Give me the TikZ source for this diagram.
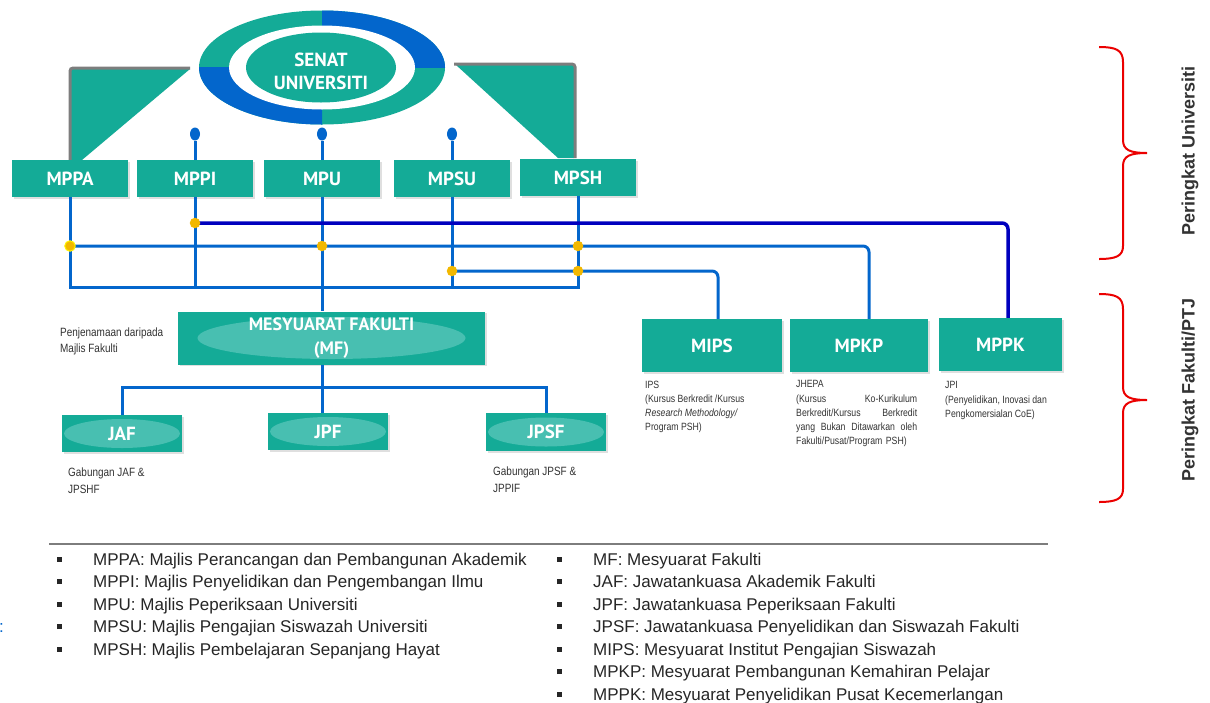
\documentclass[tikz,border=0pt]{standalone}
\usepackage{fontspec}
\setmainfont{Liberation Sans}
\newfontfamily\boxfont{PT Sans}
\newfontfamily\notefont[FakeStretch=0.83]{Liberation Sans}
\usetikzlibrary{shapes.geometric,shadows}
\definecolor{senatteal}{RGB}{20,171,151}
\definecolor{lightteal}{RGB}{72,191,177}
\definecolor{linkblue}{RGB}{3,102,204}
\definecolor{deepblue}{RGB}{0,0,190}
\definecolor{dotyellow}{RGB}{242,184,0}
\definecolor{framegray}{RGB}{125,125,125}
\definecolor{bracered}{RGB}{235,0,0}
\newcommand\legbullet{\makebox[36pt][l]{\rule[3.5pt]{5pt}{5pt}}}

\begin{document}
\begin{tikzpicture}[x=1pt,y=-1pt,
	council/.style={fill=senatteal, text=white, inner sep=0pt,
		font=\boxfont\bfseries\fontsize{19}{22}\selectfont,
		drop shadow={opacity=0.25,shadow xshift=1.5pt,shadow yshift=-1.5pt}},
	topbox/.style={council, minimum width=116pt, minimum height=37pt},
	unitbox/.style={council, minimum width=#1, minimum height=53pt},
	glow/.style 2 args={path picture={\fill[lightteal] (path picture bounding box.center) ellipse (#1 and #2);}},
	link/.style={linkblue, line width=3pt},
	deeplink/.style={deepblue, line width=3.5pt},
	joint/.style={circle, fill=dotyellow, inner sep=0pt, minimum size=10.5pt},
	knob/.style={ellipse, fill=linkblue, inner sep=0pt, minimum width=10pt, minimum height=13pt},
	note/.style={font=\notefont\fontsize{10.5}{14.2}\selectfont, text=black!80, align=left, inner sep=0pt, anchor=north west},
	legend/.style={font=\fontsize{17}{20}\selectfont, text=black!85, inner sep=0pt, anchor=base west},
	brace/.style={bracered, line width=2pt},
	level/.style={font=\bfseries\fontsize{18}{20}\selectfont, rotate=90, text=black!80}]
	\useasboundingbox (0,0) rectangle (1210,702);
	\fill[white] (0,0) rectangle (1210,702);

	% senate ring and side wings
	\fill[senatteal] (70,69) -- (190,69) -- (82,160) -- (70,160) -- cycle;
	\draw[framegray, line width=3pt, rounded corners=3pt] (70,160) -- (70,68) -- (190,68);
	\fill[senatteal] (456,65) -- (574,65) -- (574,158) -- (558,158) -- cycle;
	\draw[framegray, line width=3pt, rounded corners=3pt] (454,64) -- (575,64) -- (575,158);
	\fill[senatteal] (322,67.5) ellipse (123pt and 57pt);
	\begin{scope}
		\clip (322,67.5) rectangle (450,5);
		\fill[linkblue] (322,67.5) ellipse (123pt and 57pt);
	\end{scope}
	\begin{scope}
		\clip (322,67.5) rectangle (195,130);
		\fill[linkblue] (322,67.5) ellipse (123pt and 57pt);
	\end{scope}
	\fill[white] (322,67.5) ellipse (93pt and 42pt);
	\node[ellipse, fill=senatteal, inner sep=0pt, minimum width=150pt, minimum height=70pt] (senat) at (321,67.5) {};
	\node[text=white, align=center, font=\boxfont\bfseries\fontsize{19}{23}\selectfont] (senattext) at (321,71.5) {SENAT\\UNIVERSITI};

	% university level
	\node[topbox] (mppa) at (70,178.5) {MPPA};
	\node[topbox] (mppi) at (195,178.5) {MPPI};
	\node[topbox] (mpu) at (322,178.5) {MPU};
	\node[topbox] (mpsu) at (452,178.5) {MPSU};
	\node[topbox] (mpsh) at (578,177.5) {MPSH};

	% faculty level
	\node[unitbox=307pt, glow={134pt}{21pt}, align=center, font=\boxfont\bfseries\fontsize{18}{24}\selectfont] (mf) at (331.5,338) {MESYUARAT FAKULTI\\(MF)};
	\node[unitbox=140pt] (mips) at (712,345.5) {MIPS};
	\node[unitbox=138pt] (mpkp) at (859,345.5) {MPKP};
	\node[unitbox=123pt] (mppk) at (1000.5,344.5) {MPPK};
	\node[topbox, minimum width=120pt, glow={58pt}{14.5pt}] (jaf) at (122,433.5) {JAF};
	\node[topbox, minimum width=120pt, glow={58pt}{14.5pt}] (jpf) at (328,431.5) {JPF};
	\node[topbox, minimum width=120pt, minimum height=38pt, glow={58pt}{14.5pt}] (jpsf) at (546,432) {JPSF};

	% connectors
	\node[knob] (knobmppi) at (195,134) {};
	\node[knob] (knobmpu) at (322,134) {};
	\node[knob] (knobmpsu) at (452,134) {};
	\draw[link] (knobmppi) -- (mppi.north);
	\draw[link] (knobmpu) -- (mpu.north);
	\draw[link] (knobmpsu) -- (mpsu.north);

	\coordinate (bus) at (70,287);
	\draw[link] (mppa.south) |- (mpsh.south |- bus) -- (mpsh.south);
	\draw[link] (mppi.south) -- (mppi.south |- bus);
	\draw[link] (mpsu.south) -- (mpsu.south |- bus);
	\draw[link] (mpu.south) -- (mpu.south |- mf.north);

	\coordinate (turnmppk) at (1008,223);
	\coordinate (turnmpkp) at (869,246);
	\coordinate (turnmips) at (718,271);
	\draw[deeplink, rounded corners=6pt] (mppi.south |- turnmppk) -- (turnmppk) -- (turnmppk |- mppk.north);
	\draw[link, rounded corners=6pt] (mppa.south |- turnmpkp) -- (turnmpkp) -- (turnmpkp |- mpkp.north);
	\draw[link, rounded corners=6pt] (mpsu.south |- turnmips) -- (turnmips) -- (turnmips |- mips.north);

	\node[joint] (jmppi) at (mppi.south |- turnmppk) {};
	\node[joint, draw=yellow, line width=1pt] (jmppa) at (mppa.south |- turnmpkp) {};
	\node[joint] (jmpu) at (mpu.south |- turnmpkp) {};
	\node[joint] (jmpsh) at (mpsh.south |- turnmpkp) {};
	\node[joint] (jmpsu) at (mpsu.south |- turnmips) {};
	\node[joint] (jmpshb) at (mpsh.south |- turnmips) {};

	\coordinate (fbus) at (322,387);
	\draw[link] (mf.south -| mpu.south) -- (jpf.north -| mpu.south);
	\draw[link] (jaf.north) |- (fbus) -| (jpsf.north);

	% notes
	\node[note, font=\notefont\fontsize{12}{15.5}\selectfont] (mfnote) at (60,328) {Penjenamaan daripada\\Majlis Fakulti};
	\node[note, font=\notefont\fontsize{12}{17}\selectfont] (jafnote) at (68,468) {Gabungan JAF \&\\JPSHF};
	\node[note, font=\notefont\fontsize{12}{17}\selectfont] (jpsfnote) at (493,467) {Gabungan JPSF \&\\JPPIF};
	\node[note] (mipsnote) at (645,380.5) {IPS\\(Kursus Berkredit /Kursus\\\textit{Research Methodology/}\\Program PSH)};
	\node[note, text width=121pt] (mpkpnote) at (796,380.5) {JHEPA\\(Kursus\hfill Ko-Kurikulum\\Berkredit/Kursus\hfill Berkredit\\yang\hfill Bukan\hfill Ditawarkan\hfill oleh\\Fakulti/Pusat/Program PSH)};
	\node[note] (mppknote) at (945,381.5) {JPI\\(Penyelidikan, Inovasi dan\\Pengkomersialan CoE)};

	% levels
	\draw[brace] (1099,47) .. controls (1116,47) and (1123,50) .. (1123,62) -- (1123,140) .. controls (1123,150) and (1130,153) .. (1147,153) .. controls (1130,153) and (1123,156) .. (1123,166) -- (1123,246) .. controls (1123,256) and (1116,259) .. (1099,259);
	\draw[brace] (1099,294) .. controls (1116,294) and (1123,297) .. (1123,309) -- (1123,387) .. controls (1123,397) and (1130,400) .. (1147,400) .. controls (1130,400) and (1123,403) .. (1123,413) -- (1123,489) .. controls (1123,499) and (1116,502) .. (1099,502);
	\node[level] (unilevel) at (1190,151) {Peringkat Universiti};
	\node[level] (faclevel) at (1190,390) {Peringkat Fakulti/PTJ};

	% legend
	\draw[framegray, line width=1.2pt] (49,544) -- (1048,544);
	\node[legend, text=linkblue] (colonmark) at (-1,632.5) {:};
	\node[legend] (lmppa) at (57,565) {\legbullet MPPA: Majlis Perancangan dan Pembangunan Akademik};
	\node[legend] (lmppi) at (57,587.5) {\legbullet MPPI: Majlis Penyelidikan dan Pengembangan Ilmu};
	\node[legend] (lmpu) at (57,610) {\legbullet MPU: Majlis Peperiksaan Universiti};
	\node[legend] (lmpsu) at (57,632.5) {\legbullet MPSU: Majlis Pengajian Siswazah Universiti};
	\node[legend] (lmpsh) at (57,655) {\legbullet MPSH: Majlis Pembelajaran Sepanjang Hayat};
	\node[legend] (lmf) at (557,565) {\legbullet MF: Mesyuarat Fakulti};
	\node[legend] (ljaf) at (557,587.5) {\legbullet JAF: Jawatankuasa Akademik Fakulti};
	\node[legend] (ljpf) at (557,610) {\legbullet JPF: Jawatankuasa Peperiksaan Fakulti};
	\node[legend] (ljpsf) at (557,632.5) {\legbullet JPSF: Jawatankuasa Penyelidikan dan Siswazah Fakulti};
	\node[legend] (lmips) at (557,655) {\legbullet MIPS: Mesyuarat Institut Pengajian Siswazah};
	\node[legend] (lmpkp) at (557,677.5) {\legbullet MPKP: Mesyuarat Pembangunan Kemahiran Pelajar};
	\node[legend] (lmppk) at (557,700) {\legbullet MPPK: Mesyuarat Penyelidikan Pusat Kecemerlangan};
\end{tikzpicture}
\end{document}
